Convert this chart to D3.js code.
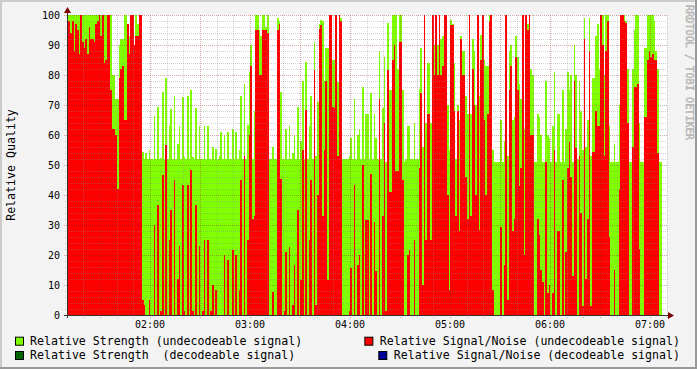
<!DOCTYPE html>
<html><head><meta charset="utf-8">
<script src="https://cdn.jsdelivr.net/npm/d3@7"></script>
<style>body{margin:0;background:#f3f3f3}svg{display:block}</style>
</head><body><svg id="c" width="697" height="369"></svg>
<script>
// one value per minute, first sample at 01:10:12
const startTime = "01:10:12";
const stepMinutes = 1;
const strength = [
100,100,100,100,100,100,100,100,100,100,
100,100,100,100,100,100,100,100,100,100,
100,100,100,100,100,100,100,80,80,72,
72,90,92,92,100,100,97,93,100,100,
90,100,97,100,100,54.4,52,54,52,55,
52,52,66.3,52,69.4,52,52.3,74.4,52,79,
52,63,68.8,52,73,52,57,63,52,72.7,
52.7,52,73,52,75,52.8,52,69,52,63,
52,52,63,52,63,52,52,56,52,55.5,
52,53,61,52,60,52,61,52,52,62,
52,61,52,55,73,52,77,52,63.5,81,
90,52,68,100,100,95,93,100,100,96,
100,52,52,56,52,52,99,98,74.4,52,
52,62,52,63,52,54,60,52,69.4,52,
58,78,52,84.4,52,63,73,52,91,53,
71,97,98.3,98,78,89,89,100,100,85,
85,100,77.8,100,99,52,52,52,52,53,
59,52,72,52,60,62,52,76,52,67,
67,52,74,52,67,59,52,88,52,69,
86,51,97.5,75,75,100,100,100,82,100,
100,75,51,52,63,63,52,52,64,52,
52,75.5,89,56,100,64,84,84,64,100,
90,100,90,100,92,93,100,100,70,55,
98.3,97,84,52,70,65,93,88,88,73,
67,100,67,92,88,70,100,73,93.5,100,
85,83,83,100,100,55,51,51,51,51,
65,51,58,100,53,88,90,65,66,93,
86,77,72,100,62,100,97,100,82,80,
51,51,67,66,60,51,51,78,60,59,
51,63,81,51,67,67,51,75,51,62,
81,75,80,51,90,80,52,78,68,55,
99,56,65,99,53,79,79,93,97,82,
100,100,80,100,100,63,51,51,57,51,
51,70,100,100,100,98,82,51,51,82,
95,100,100,64,51,51,89,89,100,100,
100,100,98,88,82,51,51
];
const signalNoise = [
98,98,94,98,88,97,95,87,100,91,
89,92,87,96,92,92,91,97,98,100,
93,100,84,85,100,100,75,62,62,60,
42,79,82,83,65,65,97,87,100,100,
90,93,93,100,100,5,3.3,0,0,5,
0,0,30,0,36.7,0,1.5,46.7,0,56.7,
0,25,35,0,45,0,12,23,0,43.3,
1.5,0,43.3,0,48.3,1.5,0,36.7,0,23,
0,1.5,25,0,25,0,1.5,10,0,8.3,
0,0,0,0,20,0,18.3,0,0,21.7,
0,20,0,8.3,45,0,53,0,25,60,
83,32,33,95,95,80,80,95,95,95,
94,0,0,7.8,0,0,95,97,45.5,0,
1.5,21,0,22.7,0,3.3,16.7,0,35,0,
11.7,55,0,68.3,0,25,45,0,81.7,3.3,
40,95.5,96.7,33,55,78,11.7,100,100,69.4,
69,100,53,100,98,0,0,0,0,1.5,
15.6,0,43.3,0,16.7,20,0,50,0,31.7,
31.7,0,47,0,31,14.7,0,72,0,33,
64,1.5,81.7,41,41,85,90,48,48,91,
91,45,0,0,20,21.7,0,0,25,0,
0,49,74,10,100,25,67,67,25,100,
80,100,80,100,80,83,100,100,40,8.3,
96.7,96.7,68,33,68,28,92,80,80,46,
32,100,33,82,70,40,100,28.3,85,100,
65,40,67,98,100,8.3,0,0,0,0,
29.4,0,16.7,100,5,75,83,28,32,86,
75,43,49,100,20,100,95,100,60,60,
0,0,32,26.7,15,11,0,51,7.2,10,
0,7.2,55,0,28,28,0,45,0,21,
49,57.8,46,13,78,55.6,0,53,34,3,
92,12,32,88,3,54.4,54.4,68,63,63,
100,90,53,88,98,26,0,0,15,0,
0,42,100,100,98,97.5,64,0,0,56,
76,76,77,22,0,0,66,66,85,88,
86,87,85,85,54,0,0
];
const yTickValues = [0,10,20,30,40,50,60,70,80,90,100];
const xTickLabels = ["02:00","03:00","04:00","05:00","06:00","07:00"];
const legendLeft = ["Relative Strength (undecodeable signal)", "Relative Strength  (decodeable signal)"];
const legendRight = ["Relative Signal/Noise (undecodeable signal)", "Relative Signal/Noise (decodeable signal)"];
const legendLeftColors = ["#80ff00", "#006400"];
const legendRightColors = ["#ff0000", "#000099"];

const svg = d3.select("#c");
const W = 697, H = 369;
const mono = "'DejaVu Sans Mono', monospace";
const [h0, m0, s0] = startTime.split(":").map(Number);
const t0 = new Date(2024, 0, 1, h0, m0, s0);
const tEnd = new Date(t0.getTime() + 6 * 3600 * 1000);
const x = d3.scaleTime().domain([t0, tEnd]).range([67, 667]);
const y = d3.scaleLinear().domain([0, 100]).range([315, 15]);

// frame
svg.append("rect").attr("width", W).attr("height", H).attr("fill", "#f3f3f3");
svg.append("rect").attr("x", 0).attr("y", 0).attr("width", W).attr("height", 2).attr("fill", "#cbcbcb");
svg.append("rect").attr("x", 0).attr("y", 0).attr("width", 2).attr("height", H).attr("fill", "#cbcbcb");
svg.append("rect").attr("x", W - 2).attr("y", 0).attr("width", 2).attr("height", H).attr("fill", "#999");
svg.append("rect").attr("x", 0).attr("y", H - 2).attr("width", W).attr("height", 2).attr("fill", "#999");

// canvas
svg.append("rect").attr("x", 67).attr("y", 15).attr("width", 600).attr("height", 300).attr("fill", "#fff");

const pts = strength.map((g, i) => ({t: new Date(t0.getTime() + i * stepMinutes * 60000), g, r: signalNoise[i]}));
const last = pts[pts.length - 1];
pts.push({t: new Date(last.t.getTime() + stepMinutes * 60000), g: last.g, r: last.r});

const areaG = d3.area().x(d => x(d.t)).y0(y(0)).y1(d => y(d.g)).curve(d3.curveStepAfter);
const areaR = d3.area().x(d => x(d.t)).y0(y(0)).y1(d => y(d.r)).curve(d3.curveStepAfter);
svg.append("path").attr("d", areaG(pts)).attr("fill", "#80ff00").attr("shape-rendering", "crispEdges");
svg.append("path").attr("d", areaR(pts)).attr("fill", "#ff0000").attr("shape-rendering", "crispEdges");

// grid
const grid = svg.append("g").attr("shape-rendering", "crispEdges").attr("stroke-dasharray", "1,1");
const minorX = x.ticks(d3.timeMinute.every(10));
const majorX = x.ticks(d3.timeMinute.every(30));
const majorSet = new Set(majorX.map(d => +d));
minorX.filter(d => !majorSet.has(+d)).forEach(d => {
  grid.append("line").attr("x1", Math.round(x(d)) + 0.5).attr("x2", Math.round(x(d)) + 0.5)
    .attr("y1", 15).attr("y2", 318).attr("stroke", "rgba(140,140,140,0.4)");
});
majorX.forEach(d => {
  grid.append("line").attr("x1", Math.round(x(d)) + 0.5).attr("x2", Math.round(x(d)) + 0.5)
    .attr("y1", 15).attr("y2", 318).attr("stroke", "rgba(150,30,30,0.38)");
});
y.ticks(50).forEach(v => {
  const major = v % 10 === 0;
  if (v === 0) return;
  grid.append("line").attr("x1", major ? 64 : 65).attr("x2", 667)
    .attr("y1", Math.round(y(v)) + 0.5).attr("y2", Math.round(y(v)) + 0.5)
    .attr("stroke", major ? "rgba(150,30,30,0.38)" : "rgba(140,140,140,0.4)");
});

// axes
const axisColor = "#333";
svg.append("line").attr("x1", 64).attr("x2", 671).attr("y1", 315.5).attr("y2", 315.5).attr("stroke", axisColor);
svg.append("line").attr("x1", 67.5).attr("x2", 67.5).attr("y1", 318).attr("y2", 11).attr("stroke", axisColor);
svg.append("path").attr("d", "M64,13 L71,13 L67.5,7 Z").attr("fill", "#7f0000");
svg.append("path").attr("d", "M668,312 L668,319 L674,315.5 Z").attr("fill", "#7f0000");

// y labels
svg.append("g").selectAll("text").data(yTickValues).join("text")
  .attr("x", 60).attr("y", d => y(d) + 3.6).attr("text-anchor", "end")
  .attr("font-family", mono).attr("font-size", 10).attr("fill", "#000").text(d => d);

// x labels
const hourTicks = x.ticks(d3.timeHour.every(1));
svg.append("g").selectAll("text").data(hourTicks).join("text")
  .attr("x", d => x(d)).attr("y", 327.5).attr("text-anchor", "middle")
  .attr("font-family", mono).attr("font-size", 10).attr("fill", "#000")
  .text((d, i) => xTickLabels[i]);

// y title
svg.append("text").attr("transform", "translate(15,165) rotate(-90)").attr("text-anchor", "middle")
  .attr("font-family", mono).attr("font-size", 11.6).attr("fill", "#000").text("Relative Quality");

// watermark
svg.append("text").attr("transform", "translate(686,5) rotate(90)").attr("text-anchor", "start")
  .attr("font-family", mono).attr("font-size", 10.2).attr("fill", "#c4c4c4").attr("stroke", "#aaa").attr("stroke-width", 0.4)
  .text("RRDTOOL / TOBI OETIKER");

// legend
const lg = svg.append("g").attr("font-family", mono).attr("font-size", 11.6).attr("fill", "#000");
legendLeft.forEach((t, i) => {
  const yy = 345 + i * 14.3;
  lg.append("rect").attr("x", 15.5).attr("y", yy - 7.8).attr("width", 8).attr("height", 8)
    .attr("fill", legendLeftColors[i]).attr("stroke", "#000").attr("stroke-width", 1);
  lg.append("text").attr("x", 30).attr("y", yy).style("white-space", "pre").text(t);
});
legendRight.forEach((t, i) => {
  const yy = 345 + i * 14.3;
  const tx = lg.append("text").attr("x", 680).attr("y", yy).attr("text-anchor", "end").style("white-space", "pre").text(t);
  const w = tx.node().getComputedTextLength();
  lg.append("rect").attr("x", 680 - w - 15).attr("y", yy - 7.8).attr("width", 8).attr("height", 8)
    .attr("fill", legendRightColors[i]).attr("stroke", "#000").attr("stroke-width", 1);
});
</script></body></html>
